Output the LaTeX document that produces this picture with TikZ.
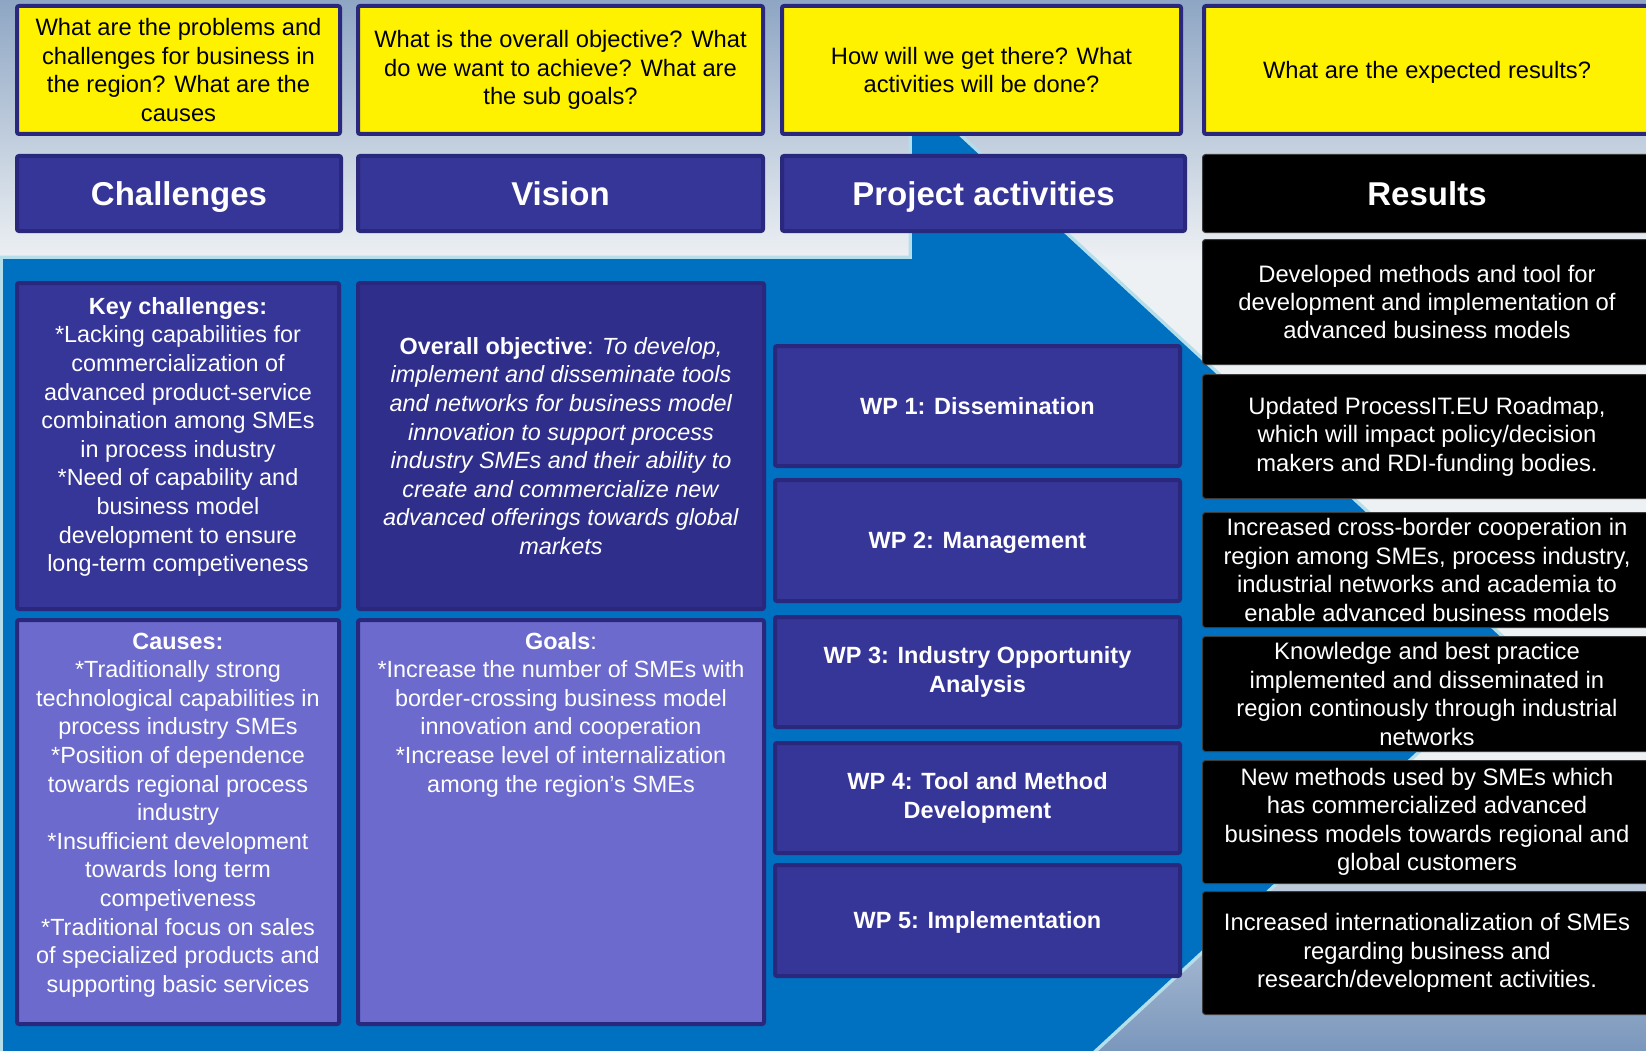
\documentclass[tikz,border=0pt]{standalone}
\usepackage{fontspec}
\setmainfont{Liberation Sans}
\definecolor{bgblue}{HTML}{0070C0}
\definecolor{edgecyan}{HTML}{B4DEEA}
\definecolor{bgA}{HTML}{8EA6C4}
\definecolor{bgB}{HTML}{EEF1F4}
\definecolor{bgC}{HTML}{7A97BC}
\definecolor{navyedge}{HTML}{29287C}
\definecolor{boxblue}{HTML}{363598}
\definecolor{boxdeep}{HTML}{2F2E8B}
\definecolor{boxlilac}{HTML}{6C6BCD}
\definecolor{resedge}{HTML}{3C3C3C}
\begin{document}
\begin{tikzpicture}[x=1pt,y=-1pt,
  box/.style={draw=navyedge, line width=4pt, rounded corners=2pt, inner sep=0pt, align=center},
  ask/.style={box, fill=yellow, text=black, font=\fontsize{23.7}{28.4}\selectfont, minimum height=128pt},
  head/.style={box, fill=boxblue, text=white, font=\bfseries\fontsize{33}{38}\selectfont,
    minimum height=75pt, text height=23.6pt, text depth=0pt},
  wp/.style={box, fill=boxblue, text=white, font=\bfseries\fontsize{23.5}{28.4}\selectfont, minimum width=405pt},
  oneline/.style={text height=16.8pt, text depth=0pt},
  res/.style={draw=resedge, line width=1pt, rounded corners=3pt, fill=black, text=white, inner sep=0pt,
    align=center, font=\fontsize{23.8}{28.4}\selectfont, minimum width=449pt},
  body/.style={text=white, align=center, font=\fontsize{23.4}{28.6}\selectfont, inner sep=0pt}]
\useasboundingbox (0,0) rectangle (1646,1051);

% background: soft grey-blue sky behind everything
\shade[top color=bgA, bottom color=bgB] (0,0) rectangle (1646,262);
\fill[bgB] (0,261) rectangle (1646,761);
\shade[top color=bgB, bottom color=bgC] (0,760) rectangle (1646,1051);

% blue band with its light edge
\fill[bgblue, preaction={draw=edgecyan, line width=7pt}]
  (3,259) -- (912,259) -- (912,130) -- (952.5,130) -- (1520.6,655.5)
  -- (1093,1051) -- (1080,1065) -- (3,1065) -- cycle;

% guiding questions
\node[ask, minimum width=323pt] (q1) at (178.5,70)
  {What are the problems and\\challenges for business in\\the region? What are the\\causes};
\node[ask, minimum width=405pt] (q2) at (560.5,70)
  {What is the overall objective? What\\do we want to achieve? What are\\the sub goals?};
\node[ask, minimum width=399pt] (q3) at (981.5,70)
  {How will we get there? What\\activities will be done?};
\node[ask, minimum width=446pt, text height=17pt, text depth=0pt] (q4) at (1427,70)
  {What are the expected results?};

% column headers
\node[head, minimum width=324pt] (h1) at (179,193.5) {Challenges};
\node[head, minimum width=405pt] (h2) at (560.5,193.5) {Vision};
\node[head, minimum width=403pt] (h3) at (983.5,193.5) {Project activities};
\node[res, minimum height=78pt, font=\bfseries\fontsize{33}{38}\selectfont,
      text height=23.6pt, text depth=0pt] (h4) at (1427,193.5) {Results};

% challenges column
\node[box, fill=boxblue, minimum width=322pt, minimum height=326pt] (kcbox) at (178,446) {};
\node[body] (kctext) at (178,437)
  {\textbf{Key challenges:}\\*Lacking capabilities for\\commercialization of\\advanced product-service\\
   combination among SMEs\\in process industry\\*Need of capability and\\business model\\
   development to ensure\\long-term competiveness};
\node[box, fill=boxlilac, minimum width=322pt, minimum height=404pt] (cbox) at (178,822) {};
\node[body] (ctext) at (178,815)
  {\textbf{Causes:}\\*Traditionally strong\\technological capabilities in\\process industry SMEs\\
   *Position of dependence\\towards regional process\\industry\\*Insufficient development\\
   towards long term\\competiveness\\*Traditional focus on sales\\of specialized products and\\
   supporting basic services};

% vision column
\node[box, fill=boxdeep, minimum width=406pt, minimum height=326pt, text=white,
      font=\fontsize{23.4}{28.6}\selectfont] (objbox) at (561,446)
  {\textbf{Overall objective}: \textit{To develop,}\\\textit{implement and disseminate tools}\\
   \textit{and networks for business model}\\\textit{innovation to support process}\\
   \textit{industry SMEs and their ability to}\\\textit{create and commercialize new}\\
   \textit{advanced offerings towards global}\\\textit{markets}};
\node[box, fill=boxlilac, minimum width=406pt, minimum height=404pt] (gbox) at (561,822) {};
\node[body] (gtext) at (561,714.5)
  {\textbf{Goals}:\\*Increase the number of SMEs with\\border-crossing business model\\
   innovation and cooperation\\*Increase level of internalization\\among the region’s SMEs};

% work packages
\node[wp, oneline, minimum height=120pt] (wp1) at (977.5,406) {WP 1: Dissemination};
\node[wp, oneline, minimum height=121pt] (wp2) at (977.5,540.5) {WP 2: Management};
\node[wp, minimum height=110pt] (wp3) at (977.5,672) {WP 3: Industry Opportunity\\Analysis};
\node[wp, minimum height=110pt] (wp4) at (977.5,798) {WP 4: Tool and Method\\Development};
\node[wp, oneline, minimum height=111pt] (wp5) at (977.5,920.5) {WP 5: Implementation};

% expected results
\node[res, minimum height=125pt] (r1) at (1427,302)
  {Developed methods and tool for\\development and implementation of\\advanced business models};
\node[res, minimum height=124pt] (r2) at (1427,436.5)
  {Updated ProcessIT.EU Roadmap,\\which will impact policy/decision\\makers and RDI-funding bodies.};
\node[res, minimum height=115pt] (r3) at (1427,570)
  {Increased cross-border cooperation in\\region among SMEs, process industry,\\industrial networks and academia to\\enable advanced business models};
\node[res, minimum height=115pt] (r4) at (1427,694)
  {Knowledge and best practice\\implemented and disseminated in\\region continously through industrial\\networks};
\node[res, minimum height=123pt] (r5) at (1427,822)
  {New methods used by SMEs which\\has commercialized advanced\\business models towards regional and\\global customers};
\node[res, minimum height=123pt] (r6) at (1427,953)
  {Increased internationalization of SMEs\\regarding business and\\research/development activities.};
\end{tikzpicture}
\end{document}
